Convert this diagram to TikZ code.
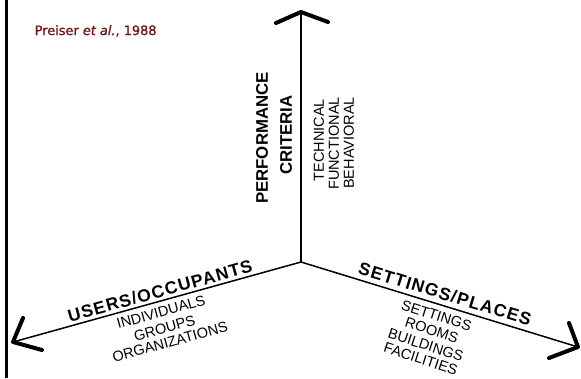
\documentclass[tikz,border=0pt]{standalone}
\usepackage{fontspec}
\setmainfont{Liberation Sans}
\newfontfamily\citefont[FakeBold=1.2]{DejaVu Sans}
\newfontfamily\spacedfont[LetterSpace=6.5]{Liberation Sans}
\definecolor{citered}{RGB}{110,22,22}

\begin{document}
\begin{tikzpicture}[x=1pt,y=-1pt,
  axis/.style={line width=1.5pt},
  tip/.style={line width=4pt,line cap=round,line join=round},
  axisname/.style={inner sep=0pt,font=\fontsize{16.8}{18}\selectfont\bfseries},
  spacedname/.style={inner sep=0pt,font=\spacedfont\bfseries\fontsize{17.5}{19}\selectfont},
  item/.style={inner sep=0pt,font=\fontsize{14.5}{15}\selectfont}]

\useasboundingbox (0,0) rectangle (581,378);

% frame line on the left
\coordinate (frameTop) at (6.3,0);
\coordinate (frameBot) at (6.3,378);
\draw[line width=2.4pt] (frameTop) -- (frameBot);

% reference
\node[anchor=base west, inner sep=0pt, text=citered,
      font=\citefont\fontsize{12.9}{14}\selectfont] (cite) at (34.5,35)
      {Preiser \textit{et al.}, 1988};

% the three axes
\coordinate (O) at (301,262);
\coordinate (topEnd) at (301,12);
\coordinate (leftEnd) at (13,342);
\coordinate (rightEnd) at (578,347);
\draw[axis] (O) -- (topEnd);
\draw[axis] (O) -- (leftEnd);
\draw[axis] (O) -- (rightEnd);

% open arrowheads
\coordinate (vA1) at (276,23);
\coordinate (vA2) at (328,22);
\coordinate (lA1) at (23,318);
\coordinate (lA2) at (42,350);
\coordinate (rA1) at (569,323);
\coordinate (rA2) at (549,358);
\draw[tip] (vA1) -- (topEnd) -- (vA2);
\draw[tip] (lA1) -- (leftEnd) -- (lA2);
\draw[tip] (rA1) -- (rightEnd) -- (rA2);

% vertical axis labels
\node[axisname, rotate=90] (perf) at (262,138) {PERFORMANCE};
\node[axisname, rotate=90] (crit) at (286,135) {CRITERIA};
\node[item, rotate=90, anchor=east] (tech) at (319,99) {TECHNICAL};
\node[item, rotate=90, anchor=east] (func) at (334,97) {FUNCTIONAL};
\node[item, rotate=90, anchor=east] (behav) at (349,97) {BEHAVIORAL};

% left axis labels
\node[spacedname, rotate=15.5] (users) at (160,291) {USERS/OCCUPANTS};
\node[item, rotate=15.5] (indiv) at (161,312) {INDIVIDUALS};
\node[item, rotate=15.5] (groups) at (164.5,328) {GROUPS};
\node[item, rotate=15.5] (orgs) at (170,342) {ORGANIZATIONS};

% right axis labels
\node[spacedname, rotate=-17] (places) at (445,294) {SETTINGS/PLACES};
\node[item, rotate=-18] (sett) at (436.5,315.5) {SETTINGS};
\node[item, rotate=-18] (rooms) at (431.7,330) {ROOMS};
\node[item, rotate=-18] (bldg) at (425.8,345) {BUILDINGS};
\node[item, rotate=-18] (facil) at (420.8,359) {FACILITIES};
\end{tikzpicture}
\end{document}
